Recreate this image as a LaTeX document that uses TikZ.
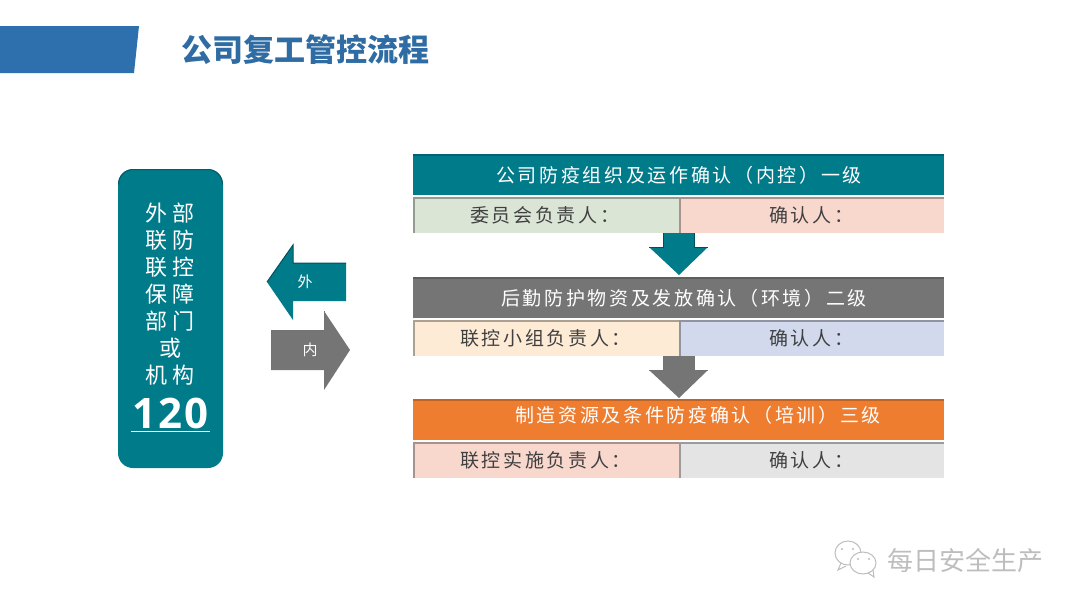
\documentclass[tikz,border=0pt]{standalone}
\usepackage{fontspec}
\newfontfamily\cjk[LetterSpace=14]{Noto Sans CJK SC}
\newfontfamily\cjkwide[LetterSpace=20]{Noto Sans CJK SC}
\newfontfamily\cjktitle{Noto Sans CJK SC}
\newfontfamily\numfont[LetterSpace=4]{Open Sans}
\definecolor{bannerblue}{HTML}{2E70AE}
\definecolor{titleblue}{HTML}{2F6CA3}
\definecolor{tealbar}{HTML}{007B8A}
\definecolor{greybar}{HTML}{757575}
\definecolor{orangebar}{HTML}{EE7D30}
\definecolor{markgrey}{HTML}{BDBDBD}
\definecolor{cellgreen}{HTML}{DAE5D6}
\definecolor{cellpink}{HTML}{F8D7CD}
\definecolor{cellcream}{HTML}{FDEBD6}
\definecolor{cellblue}{HTML}{D2D9EC}
\definecolor{cellgrey}{HTML}{E4E4E4}
\tikzset{
  bar/.style={fill=#1,minimum width=531pt,minimum height=41pt,inner sep=0pt,anchor=north west,
    path picture={\draw[line width=3pt,#1!80!black]
      (path picture bounding box.north west) -- (path picture bounding box.north east);}},
  cell/.style={fill=#1,minimum height=36pt,inner sep=0pt,anchor=north west,
    path picture={\draw[line width=3pt,#1!68!black]
      (path picture bounding box.south west) -- (path picture bounding box.north west)
      -- (path picture bounding box.north east);}},
  celltext/.style={text=black!75,font=\cjk\fontsize{19}{19}\selectfont,inner sep=0pt,anchor=west},
  bartext/.style={text=white,font=\cjk\fontsize{19}{19}\selectfont,inner sep=0pt},
  edge/.style={line width=1pt,black!55,line join=miter},
}
\begin{document}
\begin{tikzpicture}[x=1pt,y=-1pt]
  \useasboundingbox (0,0) rectangle (1080,608);
  % title
  \fill[bannerblue] (0,26) -- (139,26) -- (134,73) -- (0,73) -- cycle;
  \node[text=titleblue,font=\cjktitle\bfseries\fontsize{31}{31}\selectfont,inner sep=0pt] (title) at (305,50) {公司复工管控流程};
  % left box
  \node[fill=tealbar,rounded corners=15pt,minimum width=105pt,minimum height=299pt,inner sep=0pt] (orgbox) at (170.5,318.5) {};
  \draw[edge,tealbar!75!black,rounded corners=15pt] (118.5,184.5) -- (118.5,169.5) -- (222.5,169.5) -- (222.5,184.5);
  \node[text=white,align=center,font=\cjkwide\fontsize{22}{27}\selectfont,inner sep=0pt] (orgtext) at (170,294) {外部\\联防\\联控\\保障\\部门\\或\\机构};
  \node[text=white,font=\numfont\bfseries\fontsize{42}{42}\selectfont,minimum width=79pt,minimum height=36pt,inner sep=0pt] (orgnum) at (170.5,413) {120};
  \draw[white,line width=1pt] (orgnum.south west) -- (orgnum.south east);
  % in and out arrows
  \fill[tealbar] (267,282) -- (293,245) -- (293,263) -- (346,263) -- (346,301) -- (293,301) -- (293,320) -- cycle;
  \draw[edge,tealbar!65!black] (267,282) -- (293,245) -- (293,263) -- (346,263);
  \node[text=white,font=\cjktitle\fontsize{15}{15}\selectfont,inner sep=0pt] (outlabel) at (305,282) {外};
  \fill[greybar] (271,330) -- (324,330) -- (324,311) -- (350,350) -- (324,390) -- (324,370) -- (271,370) -- cycle;
  \draw[edge] (271,370) -- (271,330) -- (324,330) -- (324,311);
  \node[text=white,font=\cjktitle\fontsize{15}{15}\selectfont,inner sep=0pt] (inlabel) at (310,350) {内};
  % level one
  \node[bar=tealbar] (barone) at (413,154) {};
  \node[bartext] (baronetext) at (679,175) {公司防疫组织及运作确认（内控）一级};
  \node[cell=cellgreen,minimum width=266pt] (chiefone) at (413,197) {};
  \node[cell=cellpink,minimum width=265pt] (signone) at (679,197) {};
  \node[celltext] (chiefonetext) at (470,215) {委员会负责人：};
  \node[celltext] (signonetext) at (769,215) {确认人：};
  \fill[tealbar] (663,233) -- (694,233) -- (694,247) -- (708,247) -- (679,275) -- (649,247) -- (663,247) -- cycle;
  \draw[edge,tealbar!65!black] (649,247) -- (663,247) -- (663,233);
  \draw[edge,tealbar!65!black] (694,233) -- (694,247) -- (708,247);
  % level two
  \node[bar=greybar] (bartwo) at (413,277) {};
  \node[bartext] (bartwotext) at (684,298) {后勤防护物资及发放确认（环境）二级};
  \node[cell=cellcream,minimum width=266pt] (chieftwo) at (413,320) {};
  \node[cell=cellblue,minimum width=265pt] (signtwo) at (679,320) {};
  \node[celltext] (chieftwotext) at (460,338) {联控小组负责人：};
  \node[celltext] (signtwotext) at (769,338) {确认人：};
  \fill[greybar] (663,356) -- (694,356) -- (694,370) -- (708,370) -- (679,398) -- (649,370) -- (663,370) -- cycle;
  \draw[edge] (649,370) -- (663,370) -- (663,356);
  \draw[edge] (694,356) -- (694,370) -- (708,370);
  % level three
  \node[bar=orangebar] (barthree) at (413,399) {};
  \node[bartext] (barthreetext) at (698,415) {制造资源及条件防疫确认（培训）三级};
  \node[cell=cellpink,minimum width=266pt] (chiefthree) at (413,442) {};
  \node[cell=cellgrey,minimum width=265pt] (signthree) at (679,442) {};
  \node[celltext] (chiefthreetext) at (460,460) {联控实施负责人：};
  \node[celltext] (signthreetext) at (769,460) {确认人：};
  % mark
  \draw[markgrey,line width=1pt,fill=white] (848,553) ellipse (13pt and 12pt);
  \draw[markgrey,line width=1pt,fill=white] (863,563) ellipse (13pt and 11pt);
  \draw[markgrey,line width=1pt] (841,563) -- (838,570) -- (846,566);
  \draw[markgrey,line width=1pt] (868,573) -- (874,577) -- (873,570);
  \foreach \ex/\ey in {842/549,853/549,858/559,869/559}
    \fill[markgrey] (\ex,\ey) circle (1.2pt);
  \node[text=markgrey,font=\cjktitle\fontsize{26}{26}\selectfont,inner sep=0pt] (marktext) at (965,561) {每日安全生产};
\end{tikzpicture}
\end{document}
